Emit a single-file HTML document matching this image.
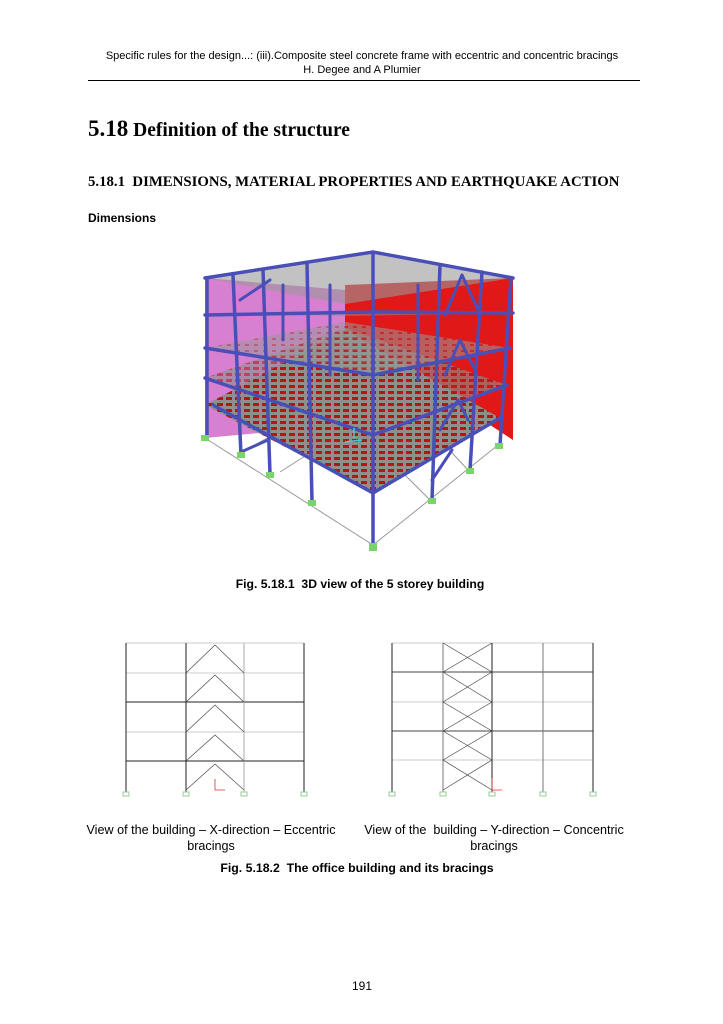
<!DOCTYPE html>
<html><head><meta charset="utf-8">
<style>
body{margin:0;background:#fff;}
#page{position:relative;width:723px;height:1024px;overflow:hidden;background:#fff;font-family:"Liberation Sans",sans-serif;color:#000;}
.t{position:absolute;white-space:nowrap;}
.c{transform:translateX(-50%);}
</style></head><body>
<div id="page">
<div class="t c" style="left:362px;top:50px;font-size:11px;">Specific rules for the design...: (iii).Composite steel concrete frame with eccentric and concentric bracings</div>
<div class="t c" style="left:362px;top:64px;font-size:11px;">H. Degee and A Plumier</div>
<div style="position:absolute;left:88px;top:80px;width:552px;height:1px;background:#000;"></div>
<div class="t" style="left:88px;top:116px;font-family:'Liberation Serif',serif;font-weight:bold;font-size:19.5px;"><span style="font-size:23px">5.18</span> Definition of the structure</div>
<div class="t" style="left:88px;top:174px;font-family:'Liberation Serif',serif;font-weight:bold;font-size:14.8px;">5.18.1&nbsp; DIMENSIONS, MATERIAL PROPERTIES AND EARTHQUAKE ACTION</div>
<div class="t" style="left:88px;top:211px;font-size:12px;font-weight:bold;">Dimensions</div>

<svg style="position:absolute;left:0;top:0" width="723" height="1024">
<defs>
<pattern id="grid" width="9" height="6" patternUnits="userSpaceOnUse"><rect width="9" height="6" fill="#8f8f8f"/><rect x="1" y="1" width="6" height="3" fill="#b01818"/></pattern>
<pattern id="grid2" width="9" height="6" patternUnits="userSpaceOnUse"><rect width="9" height="6" fill="#999"/><rect x="2" y="2" width="4" height="2" fill="#a84040"/></pattern>
</defs>
<g stroke="#999" stroke-width="1" fill="none">
<polyline points="205,438 373,545 498,445"/>
<line x1="240" y1="453" x2="300" y2="420"/><line x1="280" y1="472" x2="330" y2="440"/>
<line x1="430" y1="500" x2="400" y2="470"/><line x1="468" y1="470" x2="440" y2="440"/>
</g>
<polygon points="205,278 345,290 345,425 205,438" fill="#d77fd0"/>
<polygon points="345,285 513,278 513,440 345,330" fill="#e01818"/>
<g>
<polygon points="205,405 373,493 500,418 345,330" fill="url(#grid)"/>
<polygon points="205,378 373,435 507,385 345,328" fill="url(#grid)" opacity="0.6"/>
<polygon points="205,348 373,375 510,348 345,322" fill="url(#grid2)" opacity="0.55"/>
<polygon points="205,315 373,312 513,313 345,316" fill="#909090" opacity="0.5"/>
<polygon points="205,278 373,252 513,278 345,304" fill="#9a9a9a" opacity="0.6"/>
</g>
<g stroke="#4a4fb8" stroke-width="3.5" fill="none" stroke-linecap="round">
<polyline points="205,278 373,252 513,278"/>
<polyline points="205,315 373,312 513,313"/>
<polyline points="205,348 373,375 510,348"/>
<polyline points="205,378 373,435 507,385"/>
<polyline points="213,405 373,493 500,418"/>
<line x1="207" y1="278" x2="207" y2="438"/>
<line x1="373" y1="252" x2="373" y2="545"/>
<line x1="511" y1="278" x2="500" y2="445"/>
<line x1="233" y1="275" x2="241" y2="455"/>
<line x1="263" y1="270" x2="270" y2="474"/>
<line x1="307" y1="264" x2="312" y2="502"/>
<line x1="440" y1="265" x2="432" y2="500"/>
<line x1="482" y1="272" x2="470" y2="470"/>
<line x1="283" y1="285" x2="283" y2="340" stroke-width="3"/>
<line x1="330" y1="285" x2="330" y2="375" stroke-width="3"/>
<line x1="418" y1="285" x2="418" y2="380" stroke-width="3"/>
<line x1="240" y1="300" x2="270" y2="280" stroke-width="3"/>
<line x1="445" y1="315" x2="462" y2="275" stroke-width="3"/>
<line x1="462" y1="275" x2="478" y2="310" stroke-width="3"/>
<line x1="445" y1="375" x2="460" y2="340" stroke-width="3"/>
<line x1="460" y1="340" x2="475" y2="370" stroke-width="3"/>
<line x1="440" y1="430" x2="458" y2="400" stroke-width="3"/>
<line x1="458" y1="400" x2="468" y2="420" stroke-width="3"/>
<line x1="241" y1="452" x2="268" y2="440" stroke-width="3"/>
<line x1="432" y1="480" x2="452" y2="450" stroke-width="3"/>
</g>
<g fill="#7bd36b">
<rect x="201" y="435" width="8" height="6"/><rect x="237" y="452" width="8" height="6"/>
<rect x="266" y="472" width="8" height="6"/><rect x="308" y="500" width="8" height="6"/>
<rect x="369" y="543" width="8" height="8"/><rect x="428" y="498" width="8" height="6"/>
<rect x="466" y="468" width="8" height="6"/><rect x="495" y="443" width="8" height="6"/>
</g>
<g stroke="#3fd0d0" stroke-width="1.5"><line x1="354" y1="428" x2="354" y2="438"/><line x1="345" y1="442" x2="362" y2="440"/></g>

<g fill="none">
<g stroke="#ccc" stroke-width="1"><line x1="126" y1="643" x2="304" y2="643"/><line x1="126" y1="673" x2="304" y2="673"/><line x1="126" y1="732" x2="304" y2="732"/></g>
<g stroke="#222" stroke-width="1"><line x1="126" y1="702" x2="304" y2="702"/><line x1="126" y1="761" x2="304" y2="761"/>
<line x1="126" y1="643" x2="126" y2="792"/><line x1="186" y1="643" x2="186" y2="792"/><line x1="304" y1="643" x2="304" y2="792"/></g>
<line x1="244" y1="643" x2="244" y2="792" stroke="#aaa"/>
<g stroke="#555" stroke-width="0.8">
<polyline points="186,673 215,645 244,673"/><polyline points="186,702 215,675 244,702"/><polyline points="186,732 215,705 244,732"/><polyline points="186,761 215,735 244,761"/><polyline points="186,790 215,764 244,790"/></g>
<g stroke="#9c9" stroke-width="1"><rect x="123" y="792" width="6" height="4"/><rect x="183" y="792" width="6" height="4"/><rect x="241" y="792" width="6" height="4"/><rect x="301" y="792" width="6" height="4"/></g>
<polyline points="215,779 215,790 225,790" stroke="#d33" stroke-width="0.8"/>
</g>
<g fill="none">
<g stroke="#ccc"><line x1="392" y1="643" x2="593" y2="643"/><line x1="392" y1="702" x2="593" y2="702"/><line x1="392" y1="760" x2="593" y2="760"/></g>
<g stroke="#444"><line x1="392" y1="672" x2="593" y2="672"/><line x1="392" y1="731" x2="593" y2="731"/></g>
<g stroke="#222"><line x1="392" y1="643" x2="392" y2="792"/><line x1="492" y1="643" x2="492" y2="792"/><line x1="593" y1="643" x2="593" y2="792"/></g>
<g stroke="#777"><line x1="443" y1="643" x2="443" y2="792"/><line x1="543" y1="643" x2="543" y2="792"/></g>
<g stroke="#444" stroke-width="0.7">
<line x1="443" y1="643" x2="492" y2="672"/><line x1="492" y1="643" x2="443" y2="672"/>
<line x1="443" y1="672" x2="492" y2="702"/><line x1="492" y1="672" x2="443" y2="702"/>
<line x1="443" y1="702" x2="492" y2="731"/><line x1="492" y1="702" x2="443" y2="731"/>
<line x1="443" y1="731" x2="492" y2="760"/><line x1="492" y1="731" x2="443" y2="760"/>
<line x1="443" y1="760" x2="492" y2="790"/><line x1="492" y1="760" x2="443" y2="790"/></g>
<g stroke="#9c9"><rect x="389" y="792" width="6" height="4"/><rect x="440" y="792" width="6" height="4"/><rect x="489" y="792" width="6" height="4"/><rect x="540" y="792" width="6" height="4"/><rect x="590" y="792" width="6" height="4"/></g>
<polyline points="492,778 492,790 502,790" stroke="#d33" stroke-width="0.8"/>
</g>
</svg>

<div class="t c" style="left:360px;top:577px;font-size:12.2px;font-weight:bold;">Fig. 5.18.1&nbsp; 3D view of the 5 storey building</div>
<div class="t c" style="left:211px;top:822px;font-size:12.6px;text-align:center;line-height:16px;">View of the building – X-direction – Eccentric<br>bracings</div>
<div class="t c" style="left:494px;top:822px;font-size:12.6px;text-align:center;line-height:16px;">View of the&nbsp; building – Y-direction – Concentric<br>bracings</div>
<div class="t c" style="left:357px;top:861px;font-size:12.3px;font-weight:bold;">Fig. 5.18.2&nbsp; The office building and its bracings</div>
<div class="t c" style="left:362px;top:979px;font-size:12px;">191</div>
</div>
</body></html>
